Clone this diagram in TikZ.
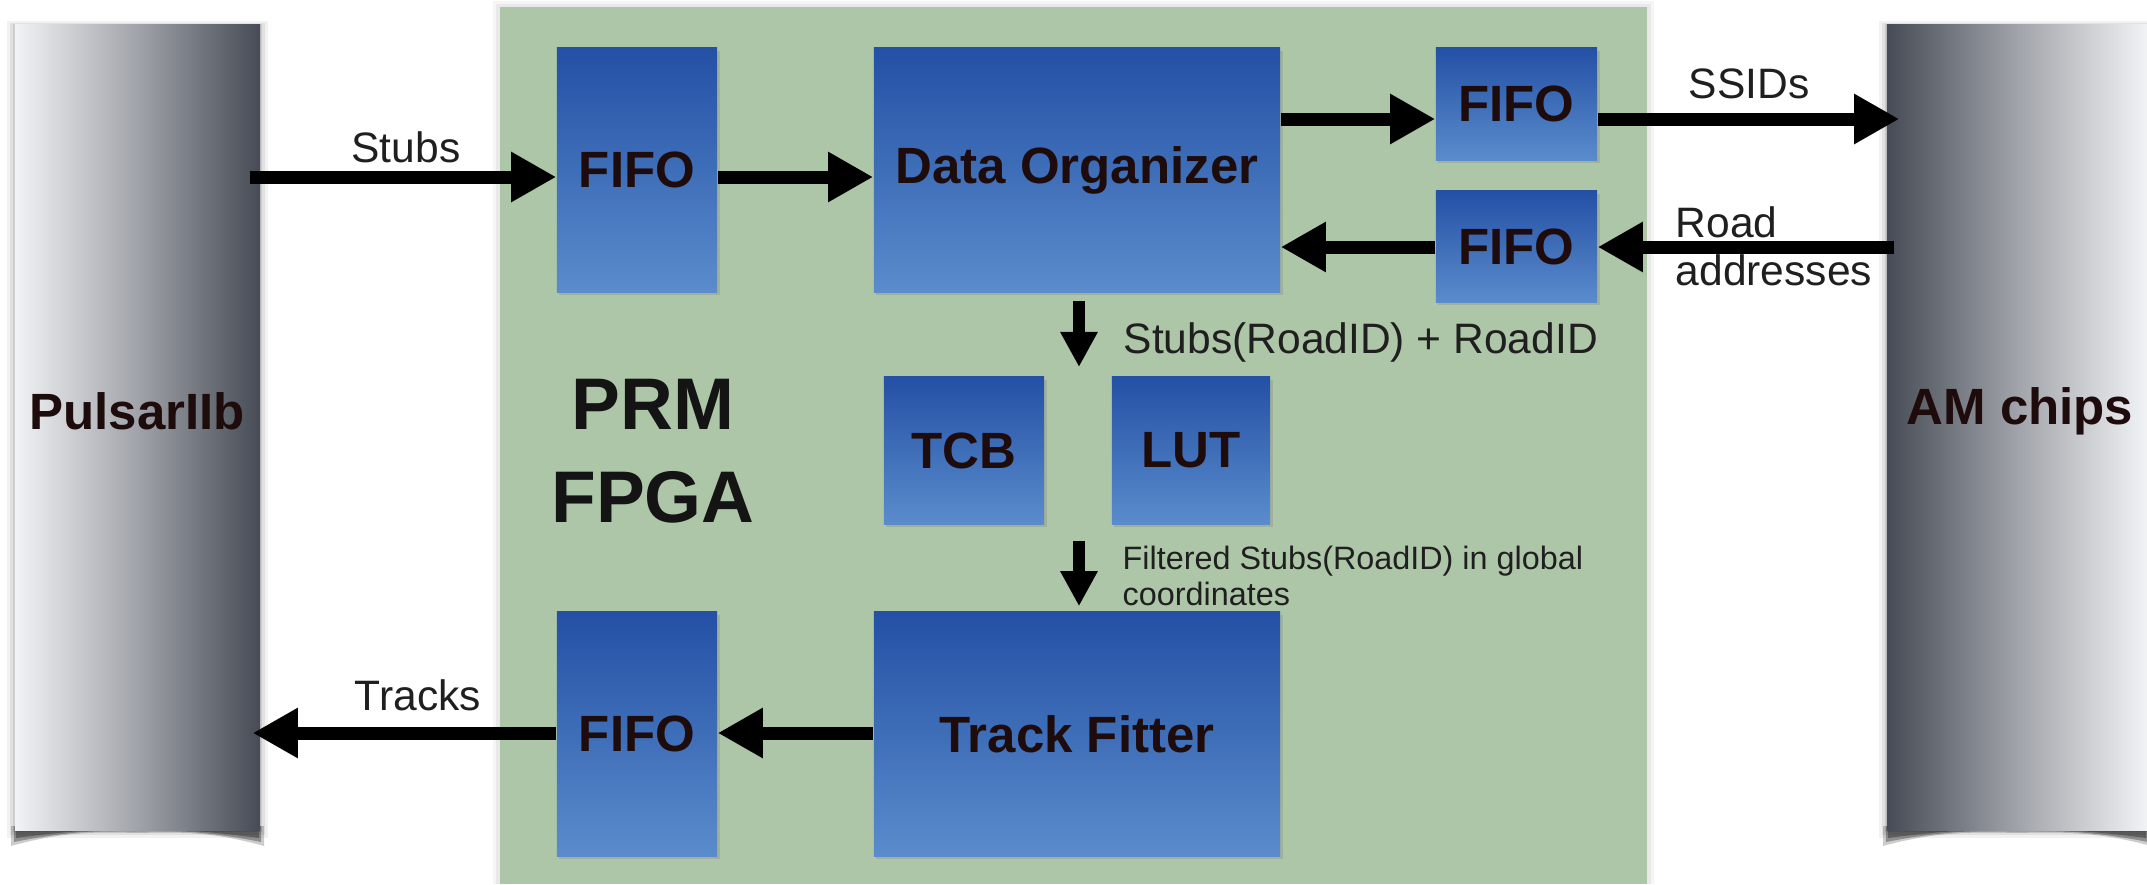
\documentclass[tikz,border=0pt]{standalone}
\usepackage{fontspec}
\setmainfont{Liberation Sans}
\usetikzlibrary{arrows.meta,shadows}
\definecolor{fpgagreen}{HTML}{AEC6A8}
\definecolor{bluetop}{HTML}{2450A5}
\definecolor{bluebot}{HTML}{5A8CCC}
\definecolor{barlight}{HTML}{F2F3F5}
\definecolor{barmid}{HTML}{A0A3A9}
\definecolor{bardark}{HTML}{464B55}
\definecolor{txtdark}{HTML}{1E0C0C}
\begin{document}
\begin{tikzpicture}[x=0.01cm, y=-0.01cm,
  blk/.style={draw=none, inner sep=0pt, top color=bluetop, bottom color=bluebot,
    font=\fontsize{14.5}{17}\selectfont\bfseries, text=txtdark,
    drop shadow={shadow xshift=0.025cm, shadow yshift=-0.03cm, opacity=0.3}},
  barbox/.style={inner sep=0pt, minimum height=8.05cm},
  bartxt/.style={inner sep=0pt, font=\fontsize{14.5}{17}\selectfont\bfseries, text=txtdark},
  lbl/.style={inner sep=0pt, font=\fontsize{12.1}{13.7}\selectfont, text=black!88},
  smalllbl/.style={inner sep=0pt, font=\fontsize{9.2}{10.2}\selectfont, text=black!88},
  arr/.style={line width=3.7pt, -{Triangle[length=12.8pt, width=13.4pt]}},
  darr/.style={line width=3.2pt, -{Triangle[length=10pt, width=10pt]}}
]
\useasboundingbox (0,0) rectangle (2147,884);
\clip (0,0) rectangle (2147,884);

% FPGA region with faint shadow
\fill[black, opacity=0.04] (493,1) rectangle (1654,884);
\fill[black, opacity=0.05] (496,4) rectangle (1651,884);
\node[fill=fpgagreen, inner sep=0pt, minimum width=11.47cm, minimum height=8.77cm] (fpga) at (1073.5,445.5) {};

% bar shadows
\foreach \xa/\xb in {15/260, 1887/2147} {
  \fill[black, opacity=0.05] (\xa-8,21) rectangle (\xb+8,838);
  \fill[black, opacity=0.07] (\xa-5,23) rectangle (\xb+5,835);
  \fill[black, opacity=0.10] (\xa-2,24) rectangle (\xb+2,832);
  \fill[black, opacity=0.20] (\xa-4,826) -- (\xb+4,826) -- (\xb+4,846)
     .. controls (\xb-50,831) and (\xa/2+\xb/2+40,832) .. (\xa/2+\xb/2,833)
     .. controls (\xa/2+\xb/2-40,832) and (\xa+50,831) .. (\xa-4,846) -- cycle;
  \fill[black, opacity=0.30] (\xa-1,826) -- (\xb+1,826) -- (\xb+1,842)
     .. controls (\xb-60,830) and (\xa/2+\xb/2+40,831) .. (\xa/2+\xb/2,831)
     .. controls (\xa/2+\xb/2-40,831) and (\xa+60,830) .. (\xa-1,842) -- cycle;
  \fill[black, opacity=0.30] (\xa+1,826) -- (\xb-1,826) -- (\xb-1,838)
     .. controls (\xb-70,829) and (\xa/2+\xb/2+40,830) .. (\xa/2+\xb/2,830)
     .. controls (\xa/2+\xb/2-40,830) and (\xa+70,829) .. (\xa+1,838) -- cycle;
}

% side bars
\node[barbox, minimum width=2.45cm, left color=barlight, right color=bardark, middle color=barmid] (pl) at (137.5,427.5) {};
\node[barbox, minimum width=2.60cm, left color=bardark, right color=barlight, middle color=barmid] (am) at (2017,427.5) {};
\node[bartxt] (plt) at (137,411) {PulsarIIb};
\node[bartxt] (amt) at (2020,411) {AM chips};

% blocks
\node[blk, minimum width=1.60cm, minimum height=2.44cm] (fifo1) at (637,170) {FIFO};
\node[blk, minimum width=4.06cm, minimum height=2.44cm] (do) at (1077,170) {Data Organizer};
\node[blk, minimum width=1.61cm, minimum height=1.12cm] (fifoS) at (1516.5,104) {FIFO};
\node[blk, minimum width=1.61cm, minimum height=1.11cm] (fifoR) at (1516.5,246.5) {FIFO};
\node[blk, minimum width=1.60cm, minimum height=1.47cm] (tcb) at (964,450.5) {TCB};
\node[blk, minimum width=1.58cm, minimum height=1.47cm] (lut) at (1191,450.5) {LUT};
\node[blk, minimum width=1.60cm, minimum height=2.44cm] (fifo2) at (637,734) {FIFO};
\node[blk, minimum width=4.06cm, minimum height=2.44cm] (tf) at (1077,734) {Track Fitter};

% PRM FPGA title
\node[inner sep=0pt, align=center, anchor=north, font=\fontsize{20.8}{26.7}\selectfont\bfseries, text=black!92] (title) at (653,378) {PRM\\FPGA};

% arrow levels
\coordinate (yS) at (0,177);
\coordinate (y1) at (0,119);
\coordinate (y2) at (0,247);
\coordinate (y4) at (0,733);
\coordinate (d1e) at (1079,367);
\coordinate (d2s) at (1079,541);

% connectors
\draw[arr, shorten <=-0.11cm] (pl.east |- yS) -- (fifo1.west |- yS);
\draw[arr] (fifo1.east |- yS) -- (do.west |- yS);
\draw[arr] (do.east |- y1) -- (fifoS.west |- y1);
\draw[arr, shorten >=-0.13cm] (fifoS.east |- y1) -- (am.west |- y1);
\draw[arr, shorten <=-0.08cm] (am.west |- y2) -- (fifoR.east |- y2);
\draw[arr] (fifoR.west |- y2) -- (do.east |- y2);
\draw[darr, shorten <=0.08cm] (do.south -| d1e) -- (d1e);
\draw[darr, shorten >=0.05cm] (d2s) -- (tf.north -| d2s);
\draw[arr] (tf.west |- y4) -- (fifo2.east |- y4);
\draw[arr, shorten >=-0.08cm] (fifo2.west |- y4) -- (pl.east |- y4);

% labels
\node[lbl, anchor=base] (lstubs) at (406,162) {Stubs};
\node[lbl, anchor=base] (ltracks) at (418,710) {Tracks};
\node[lbl, anchor=base] (lssid) at (1749,98) {SSIDs};
\node[lbl, anchor=north west, align=left] (lroad) at (1675,206) {Road\\addresses};
\node[lbl, anchor=base west] (lsr) at (1123,353) {Stubs(RoadID) + RoadID};
\node[smalllbl, anchor=north west, align=left] (lfs) at (1122,545) {Filtered Stubs(RoadID) in global\\coordinates};
\end{tikzpicture}
\end{document}
